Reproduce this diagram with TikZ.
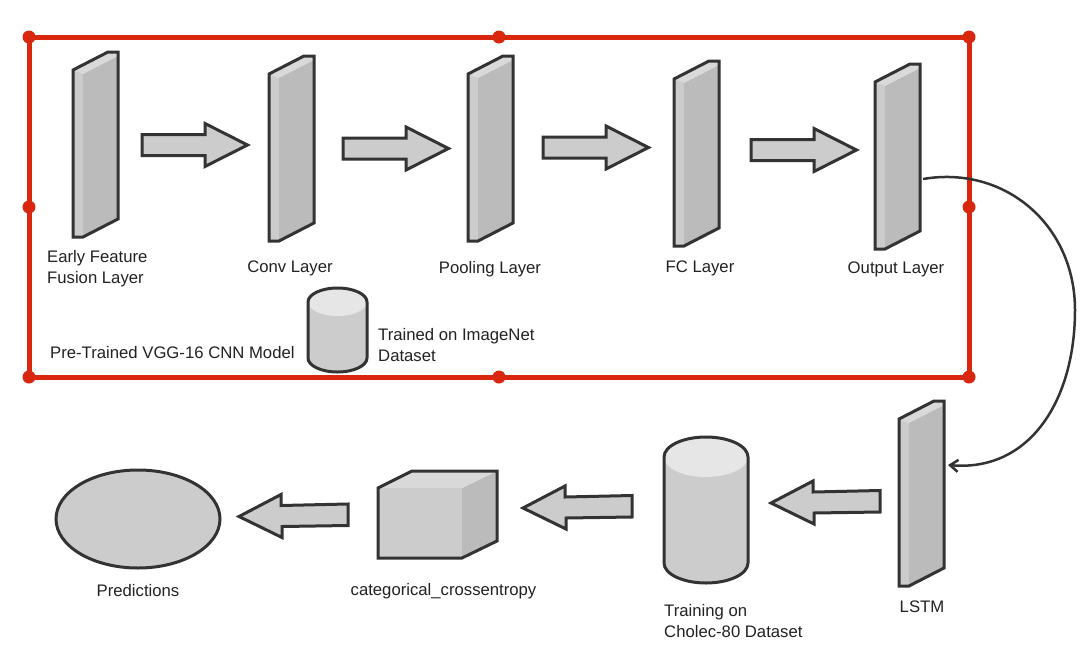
\documentclass[tikz,border=0pt]{standalone}
\usepackage{fontspec}
\setmainfont{Liberation Sans}
\usetikzlibrary{arrows.meta,shapes.geometric}
\definecolor{edgec}{HTML}{333333}
\definecolor{redc}{HTML}{D9260F}
\definecolor{midc}{HTML}{CCCCCC}
\definecolor{darkc}{HTML}{BBBBBB}
\definecolor{lightc}{HTML}{E6E6E6}
\definecolor{topc}{HTML}{D9D9D9}
\definecolor{txtc}{HTML}{222222}
\newcommand{\plateshape}[2]{%
  \begin{scope}[shift={(#1,#2)}]
    \fill[midc] (0,18) -- (35,0) -- (45,0) -- (45,167) -- (10,185) -- (0,185) -- cycle;
    \fill[darkc] (10,22) -- (45,4) -- (45,167) -- (10,185) -- cycle;
    \fill[topc] (0,18) -- (35,0) -- (45,0) -- (45,4) -- (10,22) -- cycle;
    \draw[shapeline] (0,18) -- (35,0) -- (45,0) -- (45,167) -- (10,185) -- (0,185) -- cycle;
  \end{scope}}
\newcommand{\cylshape}[5]{% left right top bottom ry
  \fill[midc] (#1,#3+#5) arc[start angle=180,end angle=360,x radius={(#2-#1)/2},y radius=#5] -- (#2,#4-#5) arc[start angle=0,end angle=180,x radius={(#2-#1)/2},y radius=#5] -- cycle;
  \fill[lightc] (#1,#3+#5) arc[start angle=180,end angle=360,x radius={(#2-#1)/2},y radius=#5] arc[start angle=0,end angle=180,x radius={(#2-#1)/2},y radius=#5] -- cycle;
  \draw[shapeline] (#1,#3+#5) arc[start angle=180,end angle=360,x radius={(#2-#1)/2},y radius=#5] -- (#2,#4-#5) arc[start angle=0,end angle=180,x radius={(#2-#1)/2},y radius=#5] -- cycle;}
\newcommand{\rightblock}[2]{% tail x, centre y
  \begin{scope}[shift={(#1,#2)}]
    \draw[shapeline,fill=midc] (0,-10.5) -- (63,-10.5) -- (63,-21.5) -- (105.5,0) -- (63,21.5) -- (63,10.5) -- (0,10.5) -- cycle;
  \end{scope}}
\newcommand{\leftblock}[2]{% tip x, tip y
  \begin{scope}[shift={(#1,#2)}]
    \draw[shapeline,fill=midc] (0,0) -- (42,-22) -- (42,-11) -- (109,-12.5) -- (109,9) -- (43,10) -- (43,21) -- cycle;
  \end{scope}}
\tikzset{
  shapeline/.style={draw=edgec,line width=3pt,line join=miter},
  lbl/.style={font=\fontsize{16.7}{21}\selectfont,text=txtc,inner sep=0pt,align=center,anchor=center},
  lbll/.style={lbl,align=left,anchor=west},
  reddot/.style={circle,fill=redc,minimum size=13pt,inner sep=0pt},
}
\begin{document}
\begin{tikzpicture}[x=1pt,y=-1pt]
\useasboundingbox (0,0) rectangle (1085,670);
\fill[white] (0,0) rectangle (1085,670);
% red frame
\draw[redc,line width=5pt] (29,37) rectangle (969,377);
\foreach \n/\p in {a/{29,37},b/{499,37},c/{969,37},d/{29,207},e/{969,207},f/{29,377},g/{499,377},h/{969,377}}
  \node[reddot] (dot\n) at (\p) {};
% plates
\plateshape{73}{52}
\plateshape{269}{56}
\plateshape{468}{56}
\plateshape{674}{61}
\plateshape{875}{64}
\plateshape{899}{401}
% arrows
\rightblock{142}{145}
\rightblock{343}{148.5}
\rightblock{543}{147.5}
\rightblock{751}{150}
\leftblock{771}{503}
\leftblock{523}{508}
\leftblock{239}{516.5}
% cylinders
\cylshape{664}{748}{437}{583}{20}
\cylshape{308}{367}{288}{372}{14}
% cube
\fill[midc] (378,488) rectangle (462,558);
\fill[darkc] (462,488) -- (497,471) -- (497,541) -- (462,558) -- cycle;
\fill[topc] (378,488) -- (412,471) -- (497,471) -- (462,488) -- cycle;
\draw[shapeline] (378,488) -- (412,471) -- (497,471) -- (497,541) -- (462,558) -- (378,558) -- cycle;
% ellipse
\node[draw=edgec,line width=3pt,fill=midc,ellipse,minimum width=164pt,minimum height=98pt,inner sep=0pt] (pred) at (138,519) {};
% curve
\coordinate (outp) at (923,179);
\coordinate (lstmin) at (948,465);
\draw[edgec,line width=2.5pt,-{Straight Barb[length=8pt,width=12pt,line width=2.5pt]}] (outp) .. controls (1005,165) and (1075,225) .. (1075,310) .. controls (1075,400) and (1030,472) .. (lstmin);
% labels
\node[lbll] (t1) at (47,268.5) {Early Feature\\Fusion Layer};
\node[lbl] (t2) at (290,268) {Conv Layer};
\node[lbl] (t3) at (490,269) {Pooling Layer};
\node[lbl] (t4) at (700,268) {FC Layer};
\node[lbl] (t5) at (896,269) {Output Layer};
\node[lbll] (t6) at (50,353) {Pre-Trained VGG-16 CNN Model};
\node[lbll] (t7) at (378,345) {Trained on ImageNet\\Dataset};
\node[lbl] (t8) at (922,607) {LSTM};
\node[lbll] (t9) at (664,621) {Training on\\Cholec-80 Dataset};
\node[lbl] (t10) at (443.5,591.5) {categorical\_crossentropy};
\node[lbl] (t11) at (138,591) {Predictions};
\end{tikzpicture}
\end{document}
